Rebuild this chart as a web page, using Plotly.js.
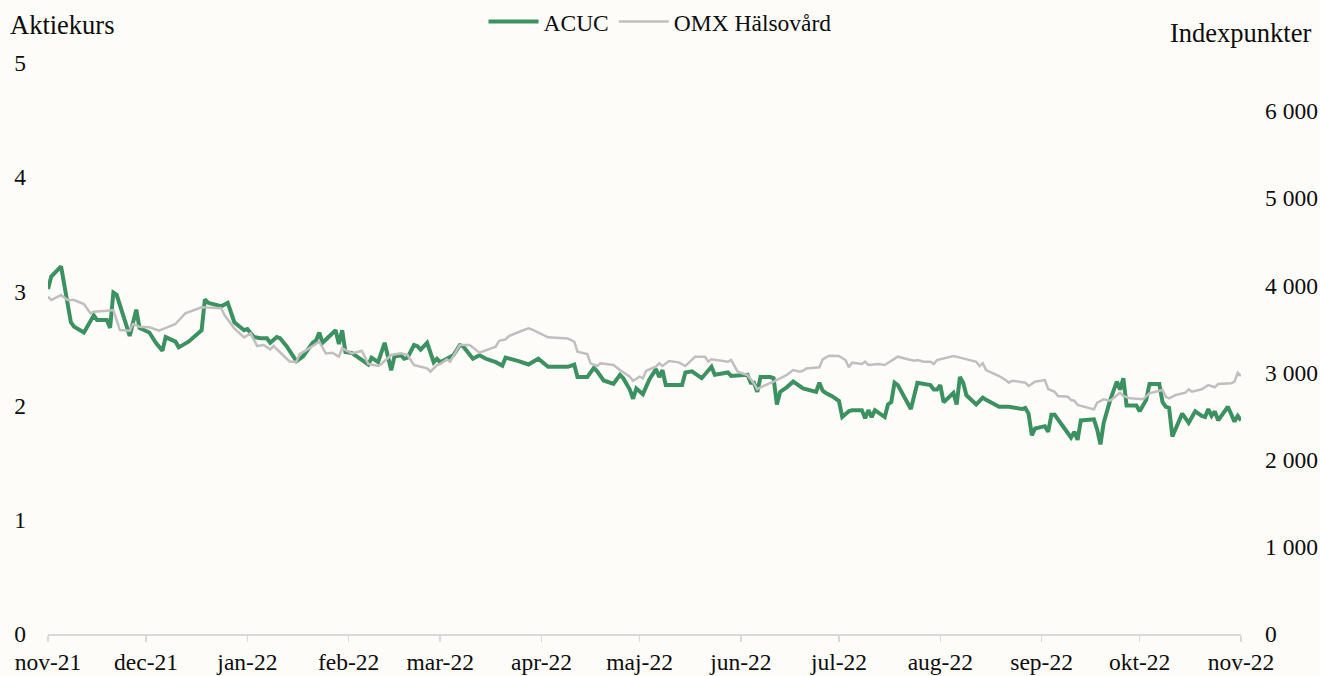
<!DOCTYPE html>
<html>
<head>
<meta charset="utf-8">
<script src="https://cdn.plot.ly/plotly-3.0.1.min.js"></script>
<style>
html,body{margin:0;padding:0;background:#fdfcf8;}
#chart{width:1320px;height:676px;}
</style>
</head>
<body>
<div id="chart"></div>
<script>
const acucDates = ['2021-11-01','2021-11-02','2021-11-05','2021-11-08','2021-11-09','2021-11-12','2021-11-15','2021-11-16','2021-11-19','2021-11-20','2021-11-21','2021-11-22','2021-11-26','2021-11-28','2021-11-29','2021-12-02','2021-12-04','2021-12-06','2021-12-07','2021-12-10','2021-12-11','2021-12-14','2021-12-18','2021-12-19','2021-12-20','2021-12-24','2021-12-26','2021-12-28','2021-12-31','2022-01-01','2022-01-03','2022-01-05','2022-01-07','2022-01-08','2022-01-10','2022-01-11','2022-01-13','2022-01-15','2022-01-16','2022-01-18','2022-01-21','2022-01-22','2022-01-23','2022-01-24','2022-01-28','2022-01-29','2022-01-30','2022-01-31','2022-02-02','2022-02-04','2022-02-07','2022-02-08','2022-02-10','2022-02-12','2022-02-13','2022-02-14','2022-02-15','2022-02-17','2022-02-18','2022-02-19','2022-02-21','2022-02-22','2022-02-23','2022-02-25','2022-02-27','2022-02-28','2022-03-01','2022-03-03','2022-03-05','2022-03-07','2022-03-08','2022-03-11','2022-03-13','2022-03-15','2022-03-18','2022-03-20','2022-03-21','2022-03-25','2022-03-28','2022-03-31','2022-04-03','2022-04-09','2022-04-11','2022-04-12','2022-04-15','2022-04-17','2022-04-18','2022-04-20','2022-04-23','2022-04-25','2022-04-26','2022-04-28','2022-04-29','2022-04-30','2022-05-02','2022-05-04','2022-05-06','2022-05-07','2022-05-08','2022-05-09','2022-05-14','2022-05-15','2022-05-17','2022-05-20','2022-05-23','2022-05-24','2022-05-28','2022-05-29','2022-06-03','2022-06-04','2022-06-05','2022-06-06','2022-06-07','2022-06-10','2022-06-11','2022-06-12','2022-06-13','2022-06-15','2022-06-17','2022-06-20','2022-06-23','2022-06-24','2022-06-25','2022-06-26','2022-06-27','2022-06-29','2022-07-01','2022-07-02','2022-07-04','2022-07-05','2022-07-08','2022-07-09','2022-07-10','2022-07-11','2022-07-12','2022-07-15','2022-07-16','2022-07-17','2022-07-18','2022-07-19','2022-07-23','2022-07-25','2022-07-29','2022-07-30','2022-07-31','2022-08-01','2022-08-02','2022-08-05','2022-08-06','2022-08-07','2022-08-08','2022-08-09','2022-08-12','2022-08-14','2022-08-15','2022-08-19','2022-08-22','2022-08-26','2022-08-27','2022-08-28','2022-08-29','2022-08-30','2022-09-02','2022-09-03','2022-09-04','2022-09-05','2022-09-09','2022-09-10','2022-09-11','2022-09-12','2022-09-13','2022-09-17','2022-09-18','2022-09-19','2022-09-20','2022-09-22','2022-09-24','2022-09-25','2022-09-26','2022-09-27','2022-09-30','2022-10-01','2022-10-03','2022-10-04','2022-10-07','2022-10-08','2022-10-09','2022-10-10','2022-10-11','2022-10-14','2022-10-16','2022-10-18','2022-10-20','2022-10-21','2022-10-22','2022-10-23','2022-10-24','2022-10-25','2022-10-28','2022-10-30','2022-10-31','2022-11-01'];
const acucValues = [3.02,3.13,3.22,2.73,2.69,2.64,2.79,2.75,2.75,2.68,2.99,2.97,2.61,2.84,2.68,2.64,2.55,2.48,2.60,2.56,2.51,2.56,2.66,2.93,2.90,2.87,2.90,2.73,2.66,2.67,2.60,2.59,2.59,2.55,2.60,2.59,2.52,2.43,2.39,2.43,2.55,2.57,2.64,2.55,2.66,2.54,2.66,2.47,2.46,2.42,2.36,2.42,2.38,2.55,2.44,2.31,2.43,2.44,2.41,2.42,2.53,2.52,2.49,2.55,2.38,2.41,2.38,2.41,2.44,2.53,2.52,2.41,2.44,2.41,2.38,2.35,2.42,2.39,2.36,2.41,2.34,2.34,2.36,2.25,2.25,2.33,2.30,2.22,2.19,2.27,2.24,2.14,2.06,2.15,2.10,2.23,2.32,2.25,2.31,2.18,2.18,2.29,2.30,2.24,2.34,2.27,2.29,2.26,2.27,2.20,2.20,2.12,2.25,2.25,2.24,2.01,2.12,2.16,2.21,2.15,2.13,2.12,2.20,2.13,2.11,2.08,2.04,1.90,1.95,1.96,1.96,1.89,1.96,1.90,1.96,1.90,2.01,2.03,2.20,2.18,1.97,2.20,2.18,2.14,2.14,2.18,2.03,2.11,2.01,2.25,2.20,2.09,2.01,2.07,2.05,1.99,1.99,1.97,1.98,1.93,1.74,1.80,1.82,1.77,1.92,1.92,1.76,1.72,1.77,1.70,1.87,1.88,1.79,1.66,1.85,2.05,2.21,2.14,2.24,2.00,2.00,1.95,2.05,2.19,2.19,2.03,1.99,1.98,1.73,1.93,1.85,1.95,1.91,1.90,1.97,1.91,1.95,1.87,1.99,1.86,1.91,1.87];

const omxDates = ['2021-11-01','2021-11-02','2021-11-05','2021-11-07','2021-11-09','2021-11-12','2021-11-14','2021-11-15','2021-11-19','2021-11-21','2021-11-23','2021-11-26','2021-11-27','2021-11-29','2021-12-02','2021-12-05','2021-12-08','2021-12-10','2021-12-13','2021-12-18','2021-12-24','2021-12-25','2021-12-28','2021-12-31','2022-01-02','2022-01-04','2022-01-06','2022-01-08','2022-01-09','2022-01-12','2022-01-14','2022-01-16','2022-01-17','2022-01-19','2022-01-23','2022-01-25','2022-01-27','2022-01-29','2022-01-30','2022-02-02','2022-02-05','2022-02-07','2022-02-10','2022-02-11','2022-02-14','2022-02-17','2022-02-19','2022-02-21','2022-02-23','2022-02-25','2022-02-26','2022-02-28','2022-03-01','2022-03-03','2022-03-04','2022-03-07','2022-03-10','2022-03-13','2022-03-18','2022-03-19','2022-03-21','2022-03-22','2022-03-26','2022-03-28','2022-03-29','2022-03-31','2022-04-03','2022-04-09','2022-04-11','2022-04-12','2022-04-15','2022-04-16','2022-04-18','2022-04-19','2022-04-23','2022-04-25','2022-04-28','2022-04-29','2022-05-01','2022-05-02','2022-05-03','2022-05-06','2022-05-07','2022-05-08','2022-05-10','2022-05-13','2022-05-15','2022-05-18','2022-05-21','2022-05-22','2022-05-23','2022-05-28','2022-05-29','2022-05-31','2022-06-03','2022-06-05','2022-06-06','2022-06-07','2022-06-11','2022-06-15','2022-06-17','2022-06-19','2022-06-20','2022-06-21','2022-06-25','2022-06-26','2022-06-28','2022-07-01','2022-07-03','2022-07-04','2022-07-05','2022-07-08','2022-07-09','2022-07-10','2022-07-13','2022-07-15','2022-07-19','2022-07-22','2022-07-24','2022-07-25','2022-07-27','2022-07-29','2022-07-30','2022-07-31','2022-08-02','2022-08-05','2022-08-08','2022-08-12','2022-08-13','2022-08-14','2022-08-15','2022-08-19','2022-08-21','2022-08-22','2022-08-23','2022-08-27','2022-08-28','2022-08-30','2022-09-02','2022-09-03','2022-09-05','2022-09-06','2022-09-09','2022-09-10','2022-09-11','2022-09-12','2022-09-17','2022-09-18','2022-09-20','2022-09-22','2022-09-25','2022-09-26','2022-09-28','2022-10-02','2022-10-04','2022-10-08','2022-10-09','2022-10-10','2022-10-12','2022-10-15','2022-10-16','2022-10-17','2022-10-20','2022-10-22','2022-10-24','2022-10-25','2022-10-29','2022-10-30','2022-10-31','2022-11-01'];
const omxValues = [3869,3831,3888,3831,3831,3785,3678,3697,3708,3716,3487,3479,3556,3525,3518,3479,3525,3556,3678,3747,3736,3659,3506,3403,3449,3303,3315,3265,3303,3200,3123,3123,3211,3257,3353,3219,3227,3181,3277,3219,3249,3097,3074,3097,3200,3219,3200,3085,3066,3047,3009,3085,3097,3151,3123,3315,3315,3227,3296,3364,3380,3418,3479,3506,3495,3456,3403,3391,3353,3238,3211,3105,3074,3105,3085,3028,2951,2905,2951,2932,3020,3066,3105,3074,3131,3116,3074,3181,3181,3123,3151,3123,3143,3009,2971,2875,2807,2830,2894,2971,3028,3009,3020,3047,3059,3151,3192,3189,3143,3059,3112,3097,3123,3085,3097,3085,3181,3151,3135,3143,3123,3123,3097,3143,3162,3189,3162,3123,3074,3105,3028,2959,2913,2883,2905,2883,2845,2894,2913,2810,2779,2730,2722,2684,2676,2627,2577,2653,2692,2676,2768,2730,2703,2692,2761,2799,2722,2703,2741,2768,2807,2779,2807,2856,2830,2868,2876,2894,2997,2959];

const monthTicks = ['2021-11-01','2021-12-01','2022-01-01','2022-02-01','2022-03-01','2022-04-01','2022-05-01','2022-06-01','2022-07-01','2022-08-01','2022-09-01','2022-10-01','2022-11-01'];
const monthLabels = ['nov-21','dec-21','jan-22','feb-22','mar-22','apr-22','maj-22','jun-22','jul-22','aug-22','sep-22','okt-22','nov-22'];
const leftTicks = [0,1,2,3,4,5];
const leftTickLabels = ['0','1','2','3','4','5'];
const rightTicks = [0,1000,2000,3000,4000,5000,6000];
const rightTickLabels = ['0','1 000','2 000','3 000','4 000','5 000','6 000'];

const FONT = 'Liberation Serif, Times New Roman, serif';
const TXT = '#0d0d0d';
const traces = [
  {x: acucDates, y: acucValues, name: 'ACUC', type: 'scatter', mode: 'lines',
   line: {color: '#3c9160', width: 4}, yaxis: 'y'},
  {x: omxDates, y: omxValues, name: 'OMX Hälsovård', type: 'scatter', mode: 'lines',
   line: {color: '#bfbfbf', width: 2.5}, yaxis: 'y2'}
];
const layout = {
  width: 1320, height: 676,
  paper_bgcolor: '#fdfcf8', plot_bgcolor: '#fdfcf8',
  margin: {l: 48, r: 79, t: 63, b: 42},
  font: {family: FONT, size: 23.5, color: TXT},
  showlegend: true,
  legend: {orientation: 'h', xref: 'container', yref: 'container', x: 0.5, xanchor: 'center', y: 0.968, yanchor: 'middle',
           font: {family: FONT, size: 23.5, color: TXT}, bgcolor: 'rgba(0,0,0,0)', itemwidth: 50, traceorder: 'normal'},
  xaxis: {type: 'date', range: ['2021-11-01', '2022-11-01'], tickmode: 'array', tickvals: monthTicks, ticktext: monthLabels,
          showgrid: false, zeroline: false, showline: true, linecolor: '#d9d9d9', linewidth: 1.5,
          ticks: 'outside', ticklen: 6, tickcolor: '#d9d9d9', tickwidth: 1.5,
          tickfont: {family: FONT, size: 23.5, color: TXT}},
  yaxis: {range: [0, 5], tickmode: 'array', tickvals: leftTicks, ticktext: leftTickLabels, showgrid: false, zeroline: false,
          showline: false, ticks: '', ticklabelstandoff: 21, tickfont: {family: FONT, size: 23.5, color: TXT}},
  yaxis2: {range: [0, 6550], overlaying: 'y', side: 'right', tickmode: 'array', tickvals: rightTicks, ticktext: rightTickLabels,
           showgrid: false, zeroline: false, showline: false, ticks: '', ticklabelstandoff: 23,
           tickfont: {family: FONT, size: 23.5, color: TXT}},
  annotations: [
    {text: 'Aktiekurs', xref: 'paper', yref: 'paper', x: -0.0335, y: 1.0665, xanchor: 'left', yanchor: 'middle', showarrow: false,
     font: {family: FONT, size: 26.5, color: TXT}},
    {text: 'Indexpunkter', xref: 'paper', yref: 'paper', x: 1.0604, y: 1.0525, xanchor: 'right', yanchor: 'middle', showarrow: false,
     font: {family: FONT, size: 26.5, color: TXT}}
  ]
};
Plotly.newPlot('chart', traces, layout, {displayModeBar: false, staticPlot: true});
</script>
</body>
</html>
